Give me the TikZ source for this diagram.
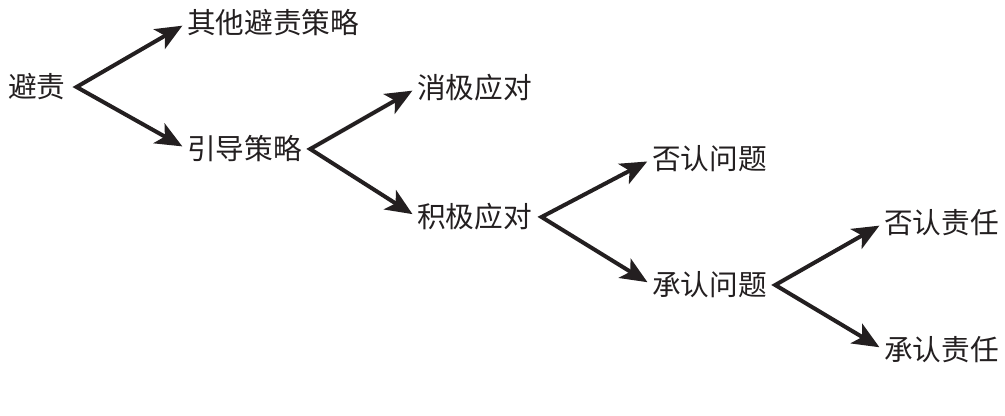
\documentclass[tikz,border=0pt]{standalone}
\usepackage{fontspec}
\newfontfamily\cjk{Noto Sans CJK SC}
\usetikzlibrary{arrows.meta}
\definecolor{ink}{HTML}{231F20}
\begin{document}
\begin{tikzpicture}[x=0.75pt, y=-0.75pt, font=\cjk\fontsize{21.5}{22}\selectfont, line join=miter, >={Stealth[length=20pt,width=17pt,inset=5pt]}]
	\tikzset{lbl/.style={anchor=west, inner sep=0pt, text=ink},
		fork/.style={<->, line width=3pt, draw=ink, shorten <=4pt, shorten >=4pt}}
	\useasboundingbox (0,0) rectangle (1005,415);
	% labels
	\node[lbl] (bz) at (8,87) {避责};
	\node[lbl] (qt) at (187,23) {其他避责策略};
	\node[lbl] (yd) at (187,149) {引导策略};
	\node[lbl] (xj) at (417,88) {消极应对};
	\node[lbl] (jj) at (417,217) {积极应对};
	\node[lbl] (fw) at (652,159) {否认问题};
	\node[lbl] (cw) at (652,285) {承认问题};
	\node[lbl] (fz) at (884,223) {否认责任};
	\node[lbl] (cz) at (884,350) {承认责任};
	% forks
	\coordinate (bz-f) at ([xshift=8pt]bz.east);
	\coordinate (yd-f) at ([xshift=6pt]yd.east);
	\coordinate (jj-f) at ([xshift=7pt]jj.east);
	\coordinate (cw-f) at ([xshift=6pt]cw.east);
	\draw[fork] (qt.west) -- (bz-f) -- (yd.west);
	\draw[fork] (xj.west) -- (yd-f) -- (jj.west);
	\draw[fork] (fw.west) -- (jj-f) -- (cw.west);
	\draw[fork] (fz.west) -- (cw-f) -- (cz.west);
\end{tikzpicture}
\end{document}
